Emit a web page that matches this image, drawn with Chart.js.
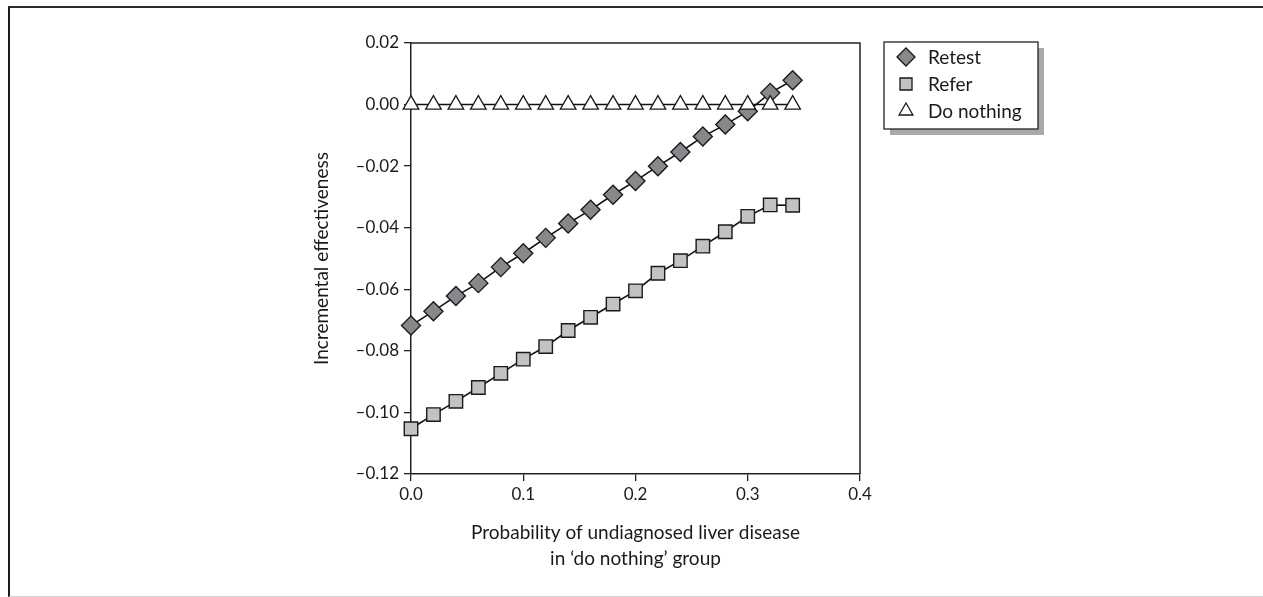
<!DOCTYPE html>
<html>
<head>
<meta charset="utf-8">
<title>Incremental effectiveness</title>
<script src="https://cdn.jsdelivr.net/npm/chart.js@4/dist/chart.umd.min.js"></script>
<style>
    html, body { margin: 0; padding: 0; background: #fff; }
    #wrap { position: relative; width: 1263px; height: 597px; }
    #frame {
        position: absolute; left: 8px; top: 6px; right: 0; bottom: 0;
        border-top: 2px solid #2a2a2a;
        border-left: 2px solid #1a1a1a;
        border-bottom: 1px solid #cfcfcf;
        pointer-events: none;
    }
    canvas { position: absolute; left: 0; top: 0; }
</style>
</head>
<body>
<div id="wrap">
    <canvas id="effectChart" width="1263" height="597"></canvas>
    <div id="frame"></div>
</div>
<script>
// Probability of undiagnosed liver disease (x) and incremental effectiveness (y)
const probability = [0, 0.02, 0.04, 0.06, 0.08, 0.10, 0.12, 0.14, 0.16, 0.18,
                     0.20, 0.22, 0.24, 0.26, 0.28, 0.30, 0.32, 0.34];
const retest = [-0.0718, -0.0671, -0.0622, -0.0580, -0.0528, -0.0483, -0.0433, -0.0386, -0.0342,
                -0.0293, -0.0248, -0.0200, -0.0154, -0.0104, -0.0065, -0.0022, 0.0038, 0.0079];
const refer = [-0.1053, -0.1007, -0.0964, -0.0919, -0.0873, -0.0827, -0.0786, -0.0734, -0.0691,
               -0.0648, -0.0605, -0.0548, -0.0507, -0.0460, -0.0413, -0.0363, -0.0326, -0.0327];
const doNothing = [0, 0, 0, 0, 0, 0, 0, 0, 0, 0, 0, 0, 0, 0, 0, 0, 0, 0];

const seriesLabels = ['Retest', 'Refer', 'Do nothing'];
const xTicks = [0, 0.1, 0.2, 0.3, 0.4];
const yTicks = [-0.12, -0.10, -0.08, -0.06, -0.04, -0.02, 0.00, 0.02];

const FONT = 'Lato, "Open Sans", sans-serif';
const INK = '#1a1a1a';

const toPoints = values => values.map((v, i) => ({ x: probability[i], y: v }));

const fmtY = v => {
    const r = Math.round(v * 100);
    return (r < 0 ? '\u2013' : '') + Math.abs(v).toFixed(2);
};

// Top and right edges of the plot box
const plotFrame = {
    id: 'plotFrame',
    afterDraw(chart) {
        const { ctx, chartArea: a } = chart;
        ctx.save();
        ctx.strokeStyle = '#222';
        ctx.lineWidth = 1.5;
        ctx.beginPath();
        ctx.moveTo(a.left, a.top);
        ctx.lineTo(a.right, a.top);
        ctx.lineTo(a.right, a.bottom);
        ctx.stroke();
        ctx.restore();
    }
};

// Boxed legend with drop shadow, right of the plot
const boxedLegend = {
    id: 'boxedLegend',
    afterDraw(chart) {
        const { ctx, chartArea: a } = chart;
        const x0 = a.right + 24, y0 = a.top - 1;
        const w = 154, h = 87;
        ctx.save();
        ctx.fillStyle = '#a9a9a9';
        ctx.fillRect(x0 + 6, y0 + 6, w, h);
        ctx.fillStyle = '#fff';
        ctx.fillRect(x0, y0, w, h);
        ctx.strokeStyle = '#222';
        ctx.lineWidth = 1.3;
        ctx.strokeRect(x0, y0, w, h);

        ctx.font = '19px ' + FONT;
        ctx.textBaseline = 'middle';
        ctx.textAlign = 'left';
        chart.data.datasets.forEach((ds, i) => {
            const cy = y0 + 15 + i * 27;
            const cx = x0 + 22;
            ctx.fillStyle = ds.pointBackgroundColor;
            ctx.strokeStyle = ds.pointBorderColor;
            Chart.helpers.drawPoint(ctx, {
                pointStyle: ds.pointStyle,
                radius: ds.legendRadius,
                borderWidth: 1.3,
                rotation: 0
            }, cx, cy);
            ctx.fillStyle = INK;
            ctx.fillText(ds.label, x0 + 44, cy + 1);
        });
        ctx.restore();
    }
};

const ctx = document.getElementById('effectChart');

new Chart(ctx, {
    type: 'line',
    data: {
        datasets: [
            {
                label: seriesLabels[0],
                data: toPoints(retest),
                borderColor: '#111',
                borderWidth: 1.6,
                pointStyle: 'rectRot',
                pointRadius: 9.5,
                legendRadius: 9,
                pointBackgroundColor: '#88888c',
                pointBorderColor: '#1a1a1a',
                pointBorderWidth: 1.4,
                clip: false,
                order: 1
            },
            {
                label: seriesLabels[1],
                data: toPoints(refer),
                borderColor: '#111',
                borderWidth: 1.6,
                pointStyle: 'rect',
                pointRadius: 9.5,
                legendRadius: 8.5,
                pointBackgroundColor: '#c2c2c4',
                pointBorderColor: '#1a1a1a',
                pointBorderWidth: 1.4,
                clip: false,
                order: 2
            },
            {
                label: seriesLabels[2],
                data: toPoints(doNothing),
                borderColor: '#111',
                borderWidth: 1.6,
                pointStyle: 'triangle',
                pointRadius: 9,
                legendRadius: 8,
                pointBackgroundColor: '#ffffff',
                pointBorderColor: '#1a1a1a',
                pointBorderWidth: 1.3,
                clip: false,
                order: 0
            }
        ]
    },
    options: {
        responsive: false,
        animation: false,
        devicePixelRatio: 1,
        layout: { padding: { left: 0, right: 403, top: 43, bottom: 0 } },
        plugins: {
            legend: { display: false },
            tooltip: { enabled: false }
        },
        elements: { line: { tension: 0 } },
        scales: {
            x: {
                type: 'linear',
                min: xTicks[0],
                max: xTicks[xTicks.length - 1],
                afterFit: scale => { scale.height = 123; },
                afterBuildTicks: scale => { scale.ticks = xTicks.map(v => ({ value: v })); },
                ticks: {
                    callback: v => v.toFixed(1),
                    color: INK,
                    padding: 3,
                    font: { family: FONT, size: 17 },
                    maxRotation: 0
                },
                grid: {
                    drawOnChartArea: false,
                    drawTicks: true,
                    tickLength: 7,
                    color: '#222',
                    lineWidth: 1.3
                },
                border: { display: true, color: '#222', width: 1.5 },
                title: {
                    display: true,
                    text: ['Probability of undiagnosed liver disease', 'in \u2018do nothing\u2019 group'],
                    color: INK,
                    font: { family: FONT, size: 19, lineHeight: 1.37 },
                    padding: { top: 0, bottom: 25 }
                }
            },
            y: {
                type: 'linear',
                min: yTicks[0],
                max: yTicks[yTicks.length - 1],
                afterFit: scale => { scale.width = 411; },
                afterBuildTicks: scale => { scale.ticks = yTicks.map(v => ({ value: v })); },
                ticks: {
                    callback: fmtY,
                    color: INK,
                    padding: 5,
                    font: { family: FONT, size: 17 }
                },
                grid: {
                    drawOnChartArea: false,
                    drawTicks: true,
                    tickLength: 7,
                    color: '#222',
                    lineWidth: 1.3
                },
                border: { display: true, color: '#222', width: 1.5 },
                title: {
                    display: true,
                    text: 'Incremental effectiveness',
                    color: INK,
                    font: { family: FONT, size: 19, lineHeight: 1.2 },
                    padding: { top: 310, bottom: 0 }
                }
            }
        }
    },
    plugins: [plotFrame, boxedLegend]
});
</script>
</body>
</html>
